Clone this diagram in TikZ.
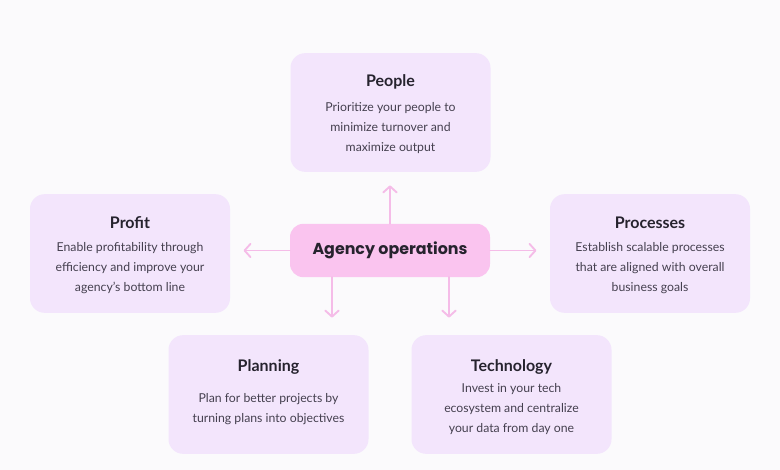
\documentclass[tikz,border=0pt]{standalone}
\usepackage{fontspec}
\setmainfont{Lato}
\newfontfamily\hubfont{Poppins}
\usetikzlibrary{arrows.meta}

\definecolor{bgcol}{HTML}{FBFAFC}
\definecolor{cardcol}{HTML}{F3E5FC}
\definecolor{hubcol}{HTML}{FAC4EF}
\definecolor{spokecol}{HTML}{F5BCE8}
\definecolor{titlecol}{HTML}{26232E}
\definecolor{bodycol}{HTML}{45404F}

\tikzset{
  card/.style={fill=cardcol,rounded corners=11pt,minimum width=150pt,minimum height=89pt},
  hub/.style={fill=hubcol,rounded corners=10pt,minimum width=150pt,minimum height=40pt,
    font=\hubfont\bfseries\fontsize{11.9}{14}\selectfont,text=titlecol},
  cardtitle/.style={font=\bfseries\fontsize{12}{14}\selectfont,text=titlecol},
  cardtext/.style={font=\fontsize{9.2}{15}\selectfont,text=bodycol,align=center},
  spoke/.style={draw=spokecol,line width=1.4pt,line cap=round,
    -{Straight Barb[length=4.5pt,width=10pt,round]},shorten >=10pt}
}

\begin{document}
\begin{tikzpicture}[x=0.75pt,y=-0.75pt]

\fill [bgcol] (0,0) rectangle (780,470);

\node (H) at (390,250.5) [hub] {Agency operations};

\node (P) at (390.5,112.5) [card] {};
\node (F) at (130,253.5) [card] {};
\node (R) at (650,253.5) [card] {};
\node (L) at (268.5,394.5) [card] {};
\node (T) at (511.5,394.5) [card] {};

\node (Pt) at (390.5,82) [cardtitle] {People};
\node (Pb) at (390.5,128.5) [cardtext] {Prioritize your people to\\minimize turnover and\\maximize output};
\node (Ft) at (130,223) [cardtitle] {Profit};
\node (Fb) at (130,268.5) [cardtext] {Enable profitability through\\efficiency and improve your\\agency's bottom line};
\node (Rt) at (650,223) [cardtitle] {Processes};
\node (Rb) at (650,268.5) [cardtext] {Establish scalable processes\\that are aligned with overall\\business goals};
\node (Lt) at (268.5,367) [cardtitle] {Planning};
\node (Lb) at (268.5,409) [cardtext] {Plan for better projects by\\turning plans into objectives};
\node (Tt) at (511.5,367) [cardtitle] {Technology};
\node (Tb) at (511.5,409.5) [cardtext] {Invest in your tech\\ecosystem and centralize\\your data from day one};

\coordinate (d1) at (332,277);
\coordinate (d2) at (449,277);

\draw [spoke] (H.north) -- (H.north |- P.south);
\draw [spoke] (H.west) -- (H.west -| F.east);
\draw [spoke] (H.east) -- (H.east -| R.west);
\draw [spoke,shorten >=13pt] (d1) -- (d1 |- L.north);
\draw [spoke,shorten >=13pt] (d2) -- (d2 |- T.north);

\end{tikzpicture}
\end{document}
